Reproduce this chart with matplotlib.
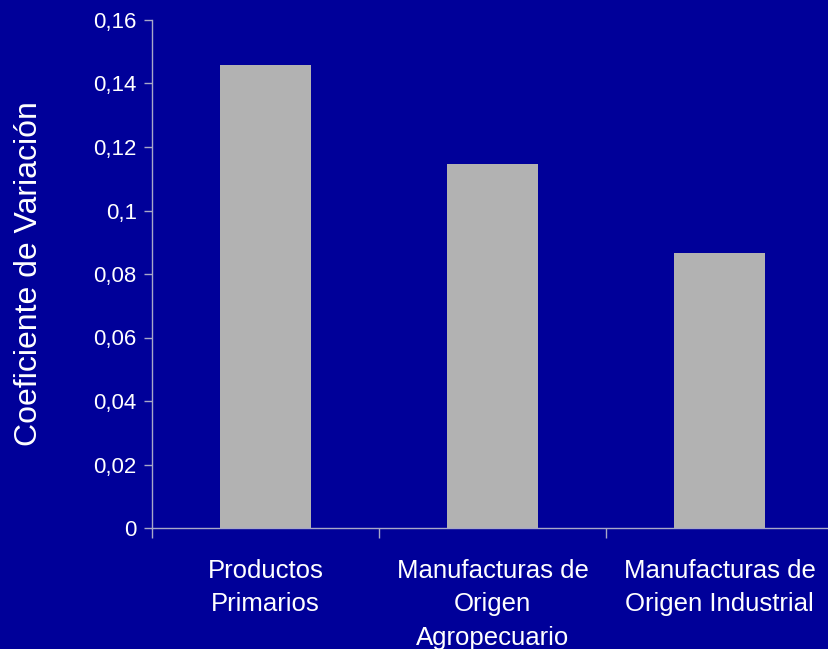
import matplotlib
matplotlib.use("Agg")
import matplotlib.pyplot as plt
from matplotlib.ticker import FuncFormatter

# Datos
categorias = ["Productos\nPrimarios",
              "Manufacturas de\nOrigen\nAgropecuario",
              "Manufacturas de\nOrigen Industrial"]
coef_variacion = [0.1458, 0.1145, 0.0865]
y_ticks = [0, 0.02, 0.04, 0.06, 0.08, 0.1, 0.12, 0.14, 0.16]

FONDO = "#000099"
GRIS = "#b2b2b2"
EJE = "#a8a8c8"

plt.rcParams["font.family"] = ["Liberation Sans", "DejaVu Sans"]

fig = plt.figure(figsize=(8.29, 6.49), dpi=100)
fig.patch.set_facecolor(FONDO)
ax = fig.add_axes([152 / 829, 121 / 649, 677 / 829, 508 / 649])
ax.set_facecolor(FONDO)

x = range(len(categorias))
ax.bar(x, coef_variacion, width=0.4, color=GRIS, edgecolor="none")

ax.set_xlim(-0.5, 2.5 - 4 / 227)
ax.set_ylim(0, 0.16)
ax.set_yticks(y_ticks)
ax.yaxis.set_major_formatter(
    FuncFormatter(lambda v, p: ("%g" % round(v, 2)).replace(".", ",")))

# ticks del eje x en los limites entre categorias
ax.set_xticks([-0.5, 0.5, 1.5])
ax.set_xticklabels([])
ax.set_xticks(list(x), minor=True)
ax.set_xticklabels(categorias, minor=True, fontsize=18.5, color="white",
                   linespacing=1.5)
ax.tick_params(axis="x", which="minor", length=0, pad=22)
ax.tick_params(axis="x", which="major", length=7, color=EJE, width=1)
ax.tick_params(axis="y", length=6, color=EJE, width=1, labelsize=16,
               labelcolor="white", pad=5)

for s in ["top", "right"]:
    ax.spines[s].set_visible(False)
for s in ["left", "bottom"]:
    ax.spines[s].set_color(EJE)
    ax.spines[s].set_linewidth(1)

ax.set_ylabel("Coeficiente de Variación", fontsize=23, color="white")
ax.yaxis.set_label_coords(-108 / 677, 0.5)

fig.savefig("out.png", dpi=100, facecolor=FONDO)
